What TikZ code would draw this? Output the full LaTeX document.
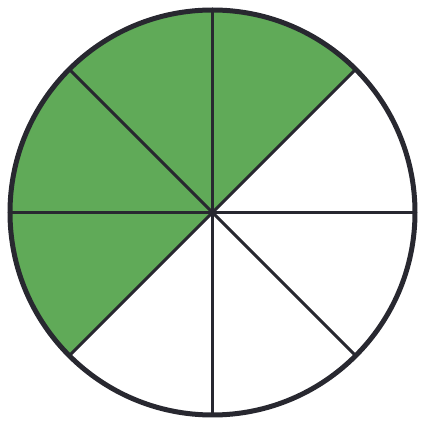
\documentclass[tikz,border=0pt]{standalone}
\usepackage{xcolor}
\usepackage{tikz}
\usetikzlibrary{calc}
\definecolor{mygreen}{RGB}{96,170,88}
\definecolor{mydark}{RGB}{40,40,48}
\tikzset{
  rim/.style={draw=mydark, line width=5pt},
  spoke/.style={draw=mydark, line width=3pt},
  sector/.style={fill=mygreen}
}

\begin{document}
\begin{tikzpicture}[x=1pt, y=1pt]
  \useasboundingbox (-212.5,-212.5) rectangle (224.5,212.5);
  \coordinate (c) at (0,0);
  \foreach \a in {0,45,...,315}
    \coordinate (r\a) at ($(c)+(\a:202.5)$);

  % four of eight parts shaded
  \fill [sector] (c) -- (r45) arc[start angle=45, end angle=225, radius=202.5] -- cycle;

  \foreach \a in {0,45,...,315}
    \draw [spoke] (c) -- (r\a);
  \draw [rim] (c) circle[radius=202.5];
\end{tikzpicture}
\end{document}
